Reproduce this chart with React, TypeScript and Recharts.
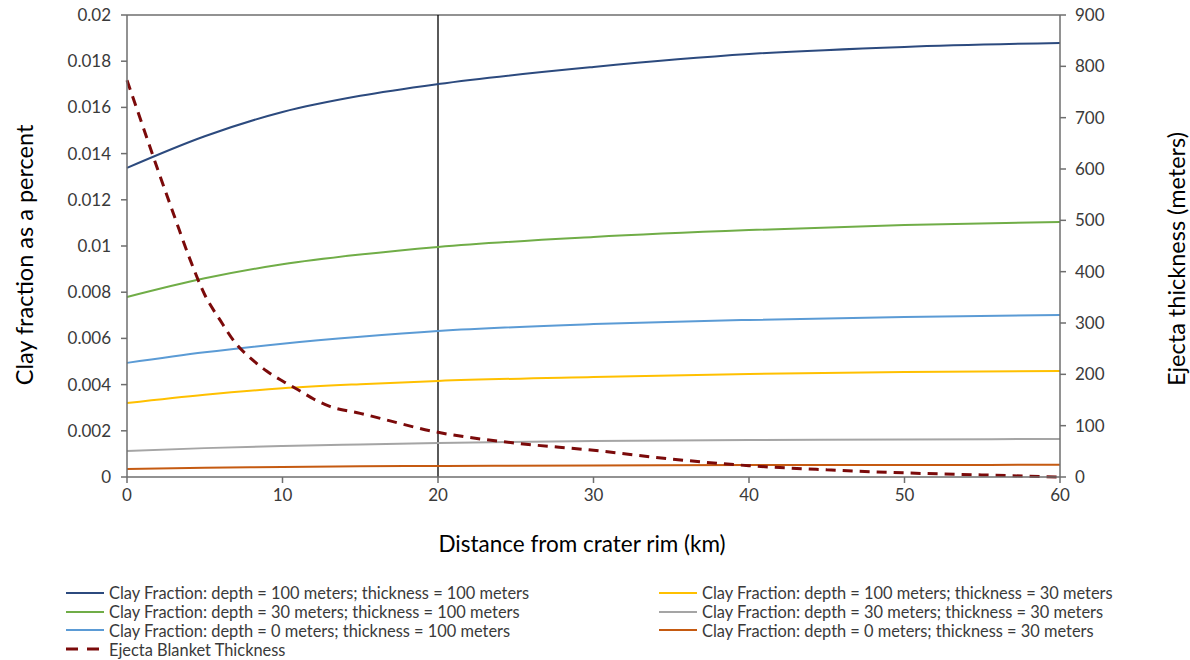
import React from "react";
import {
  ComposedChart,
  Line,
  XAxis,
  YAxis,
  ReferenceLine,
} from "recharts";

// distance from crater rim (km) for the clay fraction curves
const distanceKm = [0, 5, 10, 15, 20, 30, 40, 50, 60];

const clayD100T100 = [0.01338, 0.01475, 0.0158, 0.0165, 0.01701, 0.01775, 0.01831, 0.01862, 0.01879];
const clayD30T100 = [0.00779, 0.0086, 0.00921, 0.00963, 0.00996, 0.01039, 0.01069, 0.01091, 0.01104];
const clayD0T100 = [0.00494, 0.0054, 0.00577, 0.00607, 0.00632, 0.00662, 0.0068, 0.00693, 0.00701];
const clayD100T30 = [0.0032, 0.00356, 0.00384, 0.00402, 0.00416, 0.00433, 0.00446, 0.00455, 0.00459];
const clayD30T30 = [0.00113, 0.00125, 0.00134, 0.00141, 0.00147, 0.00156, 0.0016, 0.00162, 0.00165];
const clayD0T30 = [0.00035, 0.0004, 0.00043, 0.00046, 0.00048, 0.0005, 0.00052, 0.00052, 0.00053];

// ejecta blanket thickness (m)
const ejectaKm = [0, 1, 2, 3, 4, 5, 6, 7, 8, 9, 10, 11, 12, 13, 15, 20, 25, 30, 35, 40, 45, 50, 55, 60];
const ejectaThickness = [773, 685, 597, 512, 428, 355, 305, 260, 230, 206, 187, 170, 152, 138, 124, 87, 66, 52, 35, 22, 14, 8, 4, 0];

const xTicks = [0, 10, 20, 30, 40, 50, 60];
const clayTicks = [0, 0.002, 0.004, 0.006, 0.008, 0.01, 0.012, 0.014, 0.016, 0.018, 0.02];
const thicknessTicks = [0, 100, 200, 300, 400, 500, 600, 700, 800, 900];

const FONT = "Lato, 'Open Sans', sans-serif";
const TEXT = "#3a3a3a";
const AXIS = "#6e6e6e";

type Series = { name: string; color: string; values: number[] };

const claySeries: Series[] = [
  { name: "Clay Fraction: depth = 100 meters; thickness = 100 meters", color: "#2c4a7e", values: clayD100T100 },
  { name: "Clay Fraction: depth = 30 meters; thickness = 100 meters", color: "#70ad47", values: clayD30T100 },
  { name: "Clay Fraction: depth = 0 meters; thickness = 100 meters", color: "#5b9bd5", values: clayD0T100 },
  { name: "Clay Fraction: depth = 100 meters; thickness = 30 meters", color: "#ffc000", values: clayD100T30 },
  { name: "Clay Fraction: depth = 30 meters; thickness = 30 meters", color: "#a5a5a5", values: clayD30T30 },
  { name: "Clay Fraction: depth = 0 meters; thickness = 30 meters", color: "#c55a11", values: clayD0T30 },
];

const ejectaName = "Ejecta Blanket Thickness";
const ejectaColor = "#7b0a0a";

const toRows = (xs: number[], ys: number[]) => xs.map((x, i) => ({ x, y: ys[i] }));

function AxisTitle({ text, cx, cy, rotate }: { text: string; cx: number; cy: number; rotate?: boolean }) {
  return (
    <text
      x={cx}
      y={cy}
      transform={rotate ? `rotate(-90, ${cx}, ${cy})` : undefined}
      textAnchor="middle"
      dominantBaseline="central"
      fill="#000"
      fontSize={rotate ? 23.5 : 22.5}
      fontFamily={FONT}
    >
      {text}
    </text>
  );
}

function LegendItem({ s, dashed }: { s: { name: string; color: string }; dashed?: boolean }) {
  return (
    <div style={{ display: "flex", alignItems: "center", height: 18.8, whiteSpace: "nowrap" }}>
      <svg width={43} height={6}>
        <line
          x1={0}
          x2={dashed ? 33 : 38}
          y1={3}
          y2={3}
          stroke={s.color}
          strokeWidth={dashed ? 3 : 2}
          strokeDasharray={dashed ? "12 9" : undefined}
        />
      </svg>
      <span>{s.name}</span>
    </div>
  );
}

export default function App() {
  return (
    <div
      style={{
        position: "fixed",
        left: 0,
        top: 0,
        width: 1190,
        height: 660,
        background: "#fff",
        fontFamily: FONT,
      }}
    >
      <ComposedChart width={1190} height={565} margin={{ top: 15, right: 0, left: 0, bottom: 0 }}>
        <XAxis
          dataKey="x"
          type="number"
          domain={[0, 60]}
          ticks={xTicks}
          stroke={AXIS}
          strokeWidth={1.5}
          tickSize={6}
          tickMargin={6}
          tick={{ fill: TEXT, fontSize: 17, fontFamily: FONT }}
          height={88}
          label={<AxisTitle text="Distance from crater rim (km)" cx={582} cy={543} />}
        />
        <YAxis
          yAxisId="clay"
          orientation="left"
          domain={[0, 0.02]}
          ticks={clayTicks}
          tickFormatter={(v: number) => String(v)}
          stroke={AXIS}
          strokeWidth={1.5}
          tickSize={6}
          tickMargin={10}
          tick={{ fill: TEXT, fontSize: 17, fontFamily: FONT }}
          width={127}
          label={<AxisTitle text="Clay fraction as a percent" cx={24} cy={255} rotate />}
        />
        <YAxis
          yAxisId="ejecta"
          orientation="right"
          domain={[0, 900]}
          ticks={thicknessTicks}
          stroke={AXIS}
          strokeWidth={1.5}
          tickSize={6}
          tickMargin={9}
          tick={{ fill: TEXT, fontSize: 17, fontFamily: FONT }}
          width={130}
          label={<AxisTitle text="Ejecta thickness (meters)" cx={1176} cy={259} rotate />}
        />
        <ReferenceLine yAxisId="clay" y={0.02} stroke={AXIS} strokeWidth={1.5} />
        <ReferenceLine yAxisId="clay" x={20} stroke="#000" strokeWidth={1.3} />
        {claySeries.map((s) => (
          <Line
            key={s.name}
            yAxisId="clay"
            data={toRows(distanceKm, s.values)}
            dataKey="y"
            name={s.name}
            type="monotone"
            stroke={s.color}
            strokeWidth={2}
            dot={false}
            activeDot={false}
            isAnimationActive={false}
          />
        ))}
        <Line
          yAxisId="ejecta"
          data={toRows(ejectaKm, ejectaThickness)}
          dataKey="y"
          name={ejectaName}
          type="monotone"
          stroke={ejectaColor}
          strokeWidth={3}
          strokeDasharray="10 7"
          dot={false}
          activeDot={false}
          isAnimationActive={false}
        />
      </ComposedChart>

      <div style={{ position: "absolute", left: 66, top: 583.5, fontSize: 16.4, color: TEXT }}>
        {claySeries.slice(0, 3).map((s) => (
          <LegendItem key={s.name} s={s} />
        ))}
        <LegendItem s={{ name: ejectaName, color: ejectaColor }} dashed />
      </div>
      <div style={{ position: "absolute", left: 659, top: 583.5, fontSize: 16.4, color: TEXT }}>
        {claySeries.slice(3).map((s) => (
          <LegendItem key={s.name} s={s} />
        ))}
      </div>
    </div>
  );
}
